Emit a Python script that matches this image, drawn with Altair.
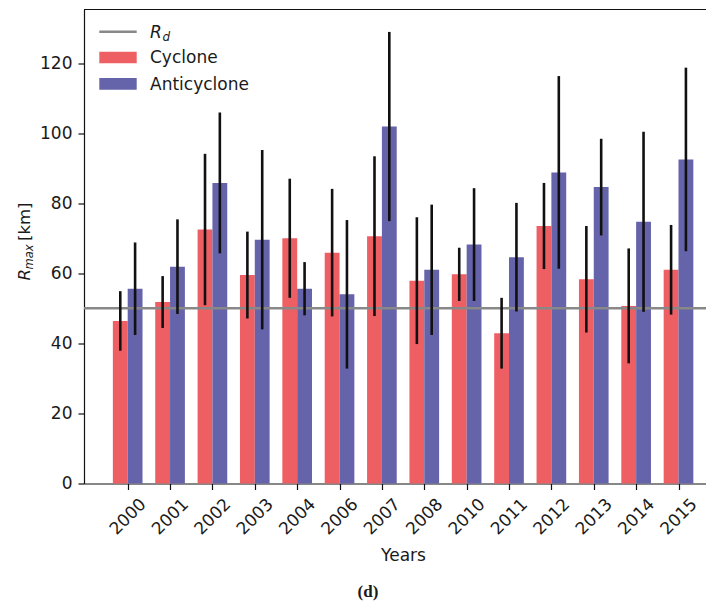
import altair as alt
import pandas as pd

# ---- data ----
years = ["2000", "2001", "2002", "2003", "2004", "2006", "2007",
         "2008", "2010", "2011", "2012", "2013", "2014", "2015"]
cyclone = [46.4, 51.8, 72.5, 59.5, 70.0, 65.9, 70.6, 57.9, 59.7, 42.9, 73.5, 58.3, 50.7, 61.0]
cyclone_err = [8.5, 7.4, 21.6, 12.4, 17.0, 18.2, 22.8, 18.1, 7.6, 10.1, 12.3, 15.2, 16.4, 12.8]
anticyclone = [55.6, 61.9, 85.8, 69.6, 55.6, 54.0, 101.9, 61.0, 68.2, 64.6, 88.8, 84.6, 74.7, 92.5]
anticyclone_err = [13.2, 13.5, 20.1, 25.6, 7.6, 21.2, 27.0, 18.6, 16.1, 15.5, 27.5, 13.8, 25.7, 26.2]
rd_value = 50
series = ["Cyclone", "Anticyclone"]
colors = ["#EE5F64", "#6563A9"]
y_ticks = [0, 20, 40, 60, 80, 100, 120]

rows = []
for i, yr in enumerate(years):
    rows.append({"idx": i, "year": yr, "type": "Cyclone", "value": cyclone[i], "err": cyclone_err[i]})
    rows.append({"idx": i, "year": yr, "type": "Anticyclone", "value": anticyclone[i], "err": anticyclone_err[i]})
df = pd.DataFrame(rows)

W, H = 622, 474
FONT = "DejaVu Sans"
TXT = "#1a1a1a"
BW = 0.35

xscale = alt.Scale(domain=[-1.031, 13.649], nice=False, zero=False)
yscale = alt.Scale(domain=[0, 135.3], nice=False)

label_expr = "[" + ",".join("'%s'" % y for y in years) + "][datum.value]"

base = alt.Chart(df).transform_calculate(
    x0=f"datum.idx + (datum.type == 'Cyclone' ? -{BW} : 0)",
).transform_calculate(
    x1=f"datum.x0 + {BW}",
    xc=f"datum.x0 + {BW / 2}",
    lo="datum.value - datum.err",
    hi="datum.value + datum.err",
)

bars = base.mark_bar(opacity=1).encode(
    x=alt.X("x0:Q", scale=xscale,
            axis=alt.Axis(values=list(range(len(years))), labelExpr=label_expr,
                          labelAngle=-45, labelAlign="center", labelBaseline="middle",
                          labelPadding=27, tickSize=6, grid=False, labelOverlap=False,
                          labelBound=False, labelFlush=False,
                          title="Years", titleX=319, titleY=64, titleBaseline="top",
                          titleFontWeight="normal", titleFontSize=17,
                          labelFontSize=17)),
    x2="x1:Q",
    y=alt.Y("value:Q", scale=yscale,
            axis=alt.Axis(values=y_ticks, tickSize=6, labelPadding=6, grid=False,
                          title=None, labelFontSize=17)),
    y2=alt.datum(0),
    color=alt.Color("type:N", scale=alt.Scale(domain=series, range=colors), legend=None),
)

errs = base.mark_rule(color="#111111", strokeWidth=2.6).encode(
    x=alt.X("xc:Q", scale=xscale),
    y=alt.Y("lo:Q", scale=yscale),
    y2="hi:Q",
)

rd = alt.Chart(pd.DataFrame({"rd": [rd_value]})).mark_rule(
    color="#888888", strokeWidth=2.5
).encode(y=alt.Y("rd:Q", scale=yscale))

one = pd.DataFrame({"a": [0]})

top_spine = alt.Chart(one).mark_rule(color="#111111", strokeWidth=1.2).encode(
    x=alt.value(0), x2=alt.value(W), y=alt.value(0)
)

# legend (manual)
leg_line = alt.Chart(one).mark_rule(color="#888888", strokeWidth=2.5).encode(
    x=alt.value(15.3), x2=alt.value(52.7), y=alt.value(22.2)
)
leg_c = alt.Chart(one).mark_rect(color=colors[0]).encode(
    x=alt.value(15.3), x2=alt.value(52.7), y=alt.value(42.2), y2=alt.value(53.8)
)
leg_a = alt.Chart(one).mark_rect(color=colors[1]).encode(
    x=alt.value(15.3), x2=alt.value(52.7), y=alt.value(68.4), y2=alt.value(80.2)
)
leg_R = alt.Chart(one).mark_text(text="R", font=FONT, fontSize=17, fontStyle="italic",
                                 align="left", baseline="alphabetic", color=TXT).encode(
    x=alt.value(66), y=alt.value(28.8))
leg_d = alt.Chart(one).mark_text(text="d", font=FONT, fontSize=12, fontStyle="italic",
                                 align="left", baseline="alphabetic", color=TXT).encode(
    x=alt.value(78.5), y=alt.value(31.2))
leg_ct = alt.Chart(one).mark_text(text=series[0], font=FONT, fontSize=17,
                                  align="left", baseline="alphabetic", color=TXT).encode(
    x=alt.value(66), y=alt.value(53.8))
leg_at = alt.Chart(one).mark_text(text=series[1], font=FONT, fontSize=17,
                                  align="left", baseline="alphabetic", color=TXT).encode(
    x=alt.value(66), y=alt.value(80.4))

# y title R_max [km] (manual, rotated)
yt_R = alt.Chart(one).mark_text(text="R", font=FONT, fontSize=16.5, fontStyle="italic",
                                angle=270, align="left", baseline="alphabetic", color=TXT).encode(
    x=alt.value(-54.5), y=alt.value(271))
yt_max = alt.Chart(one).mark_text(text="max", font=FONT, fontSize=11.5, fontStyle="italic",
                                  angle=270, align="left", baseline="alphabetic", color=TXT).encode(
    x=alt.value(-51.2), y=alt.value(260))
yt_km = alt.Chart(one).mark_text(text="[km]", font=FONT, fontSize=16.5,
                                 angle=270, align="left", baseline="alphabetic", color=TXT).encode(
    x=alt.value(-54.5), y=alt.value(231.5))

caption = alt.Chart(one).mark_text(text="(d)", font="Liberation Serif", fontSize=17,
                                   fontWeight="bold", align="center", baseline="alphabetic",
                                   color=TXT).encode(
    x=alt.value(284), y=alt.value(587))

chart = alt.layer(
    bars, rd, errs, top_spine,
    leg_line, leg_c, leg_a, leg_R, leg_d, leg_ct, leg_at,
    yt_R, yt_max, yt_km, caption,
).properties(
    width=W, height=H,
    autosize=alt.AutoSizeParams(type="none"),
    padding={"left": 76, "top": 1.5, "right": 0, "bottom": 119.5},
).configure_view(stroke=None).configure_axis(
    domainColor="#111111", domainWidth=1.2, tickColor="#111111", tickWidth=1.2,
    labelColor=TXT, titleColor=TXT, labelFont=FONT, titleFont=FONT,
)

chart.save("out.html", embed_options={"renderer": "svg", "actions": False})
